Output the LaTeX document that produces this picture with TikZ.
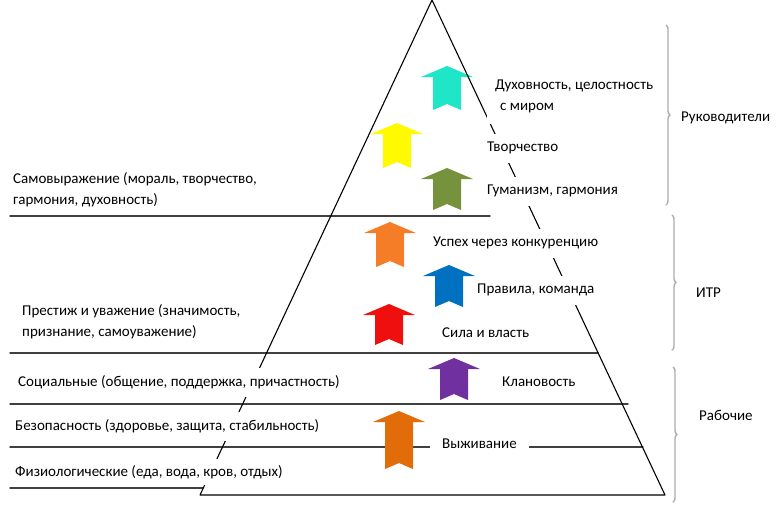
\documentclass[tikz,border=0pt]{standalone}
\usepackage{fontspec}
\setmainfont{Carlito}
\usetikzlibrary{decorations.pathreplacing}
\definecolor{strcyan}{RGB}{32,230,200}
\definecolor{stryellow}{RGB}{255,250,0}
\definecolor{strolive}{RGB}{118,146,60}
\definecolor{strorange}{RGB}{245,125,40}
\definecolor{strblue}{RGB}{0,112,192}
\definecolor{strred}{RGB}{240,15,15}
\definecolor{strviolet}{RGB}{112,48,160}
\definecolor{strbrown}{RGB}{226,108,10}
\tikzset{
	lbl/.style={anchor=west, inner xsep=0pt, minimum height=29pt, fill=white, align=left},
	lvl/.style={line width=1.4pt, black!75},
	grp/.style={decorate, decoration={brace, amplitude=4pt}, line width=1.4pt, gray!65},
	grplbl/.style={anchor=west, inner sep=0pt}
}
\begin{document}
\begin{tikzpicture}[x=1pt, y=-1pt, font=\fontsize{15}{21}\selectfont, line join=round, line cap=round]
	\useasboundingbox (0,0) rectangle (779,512);
	\foreach \y/\a/\b in {216/10/490, 353/10/598, 404/10/628, 447/10/643, 488/10/203}
	\draw[lvl] (\a,\y)--(\b,\y);% уровни
	\foreach \x/\y/\h/\c in {447/66/44/strcyan, 397/123/45/stryellow, 447/168/42/strolive, 390/222/45/strorange, 449/265/42/strblue, 389/304/41/strred, 454/358/42/strviolet, 399/411/58/strbrown}
	\fill[\c] (\x,\y)--(\x+26,\y+11)--(\x+14,\y+11)--(\x+14,\y+\h)--(\x,\y+\h-6)--(\x-14,\y+\h)--(\x-14,\y+11)--(\x-26,\y+11)--cycle;% стрелки
	\coordinate (apex) at (432,0);
	\coordinate (bl) at (200,495);
	\coordinate (br) at (665,495);
	\draw[line width=1.1pt] (bl)--(apex)--(br)--cycle;% пирамида
	\node[lbl] (self) at (13,190) {Самовыражение (мораль, творчество,\\гармония, духовность)};
	\node[lbl] (prest) at (22,322) {Престиж и уважение (значимость,\\признание, самоуважение)};
	\node[lbl] (soc) at (18,382) {Социальные (общение, поддержка, причастность)};
	\node[lbl] (safe) at (15,426) {Безопасность (здоровье, защита, стабильность)};
	\node[lbl, minimum height=26pt] (phys) at (15,472) {Физиологические (еда, вода, кров, отдых)};
	\node[lbl, inner xsep=8pt, inner ysep=11pt] (spirit) at (487,96) {Духовность, целостность\\\hspace*{5pt}с миром};
	\node[lbl] (creat) at (487,148) {Творчество};
	\node[lbl] (human) at (487,191) {Гуманизм, гармония};
	\node[lbl] (succ) at (433,243) {Успех через конкуренцию};
	\node[lbl] (rules) at (477,290) {Правила, команда};
	\node[lbl] (power) at (442,333) {Сила и власть};
	\node[lbl] (clan) at (502,382) {Клановость};
	\node[lbl, inner xsep=12pt] (surv) at (430,444) {Выживание};
	\draw[grp] (666,25)--(666,205);
	\draw[grp] (672,215)--(672,350);
	\draw[grp] (673,367)--(673,502);
	\node[grplbl] (boss) at (681,118) {Руководители};
	\node[grplbl] (itr) at (696,293) {ИТР};
	\node[grplbl] (work) at (699,415) {Рабочие};
\end{tikzpicture}
\end{document}
